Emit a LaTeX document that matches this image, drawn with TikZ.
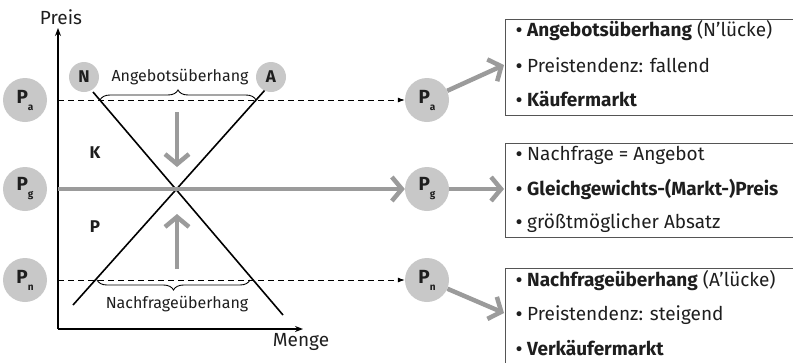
\documentclass[tikz,border=0pt]{standalone}
\usepackage{fontspec}
\setmainfont{Fira Sans}
\newfontfamily\dotfont{DejaVu Sans}
\usetikzlibrary{arrows.meta,decorations.pathreplacing}
\definecolor{disc}{HTML}{C8C8C8}
\definecolor{flow}{HTML}{9B9B9B}
\definecolor{frame}{HTML}{555555}
\definecolor{ink}{HTML}{1E1E1E}
\newcommand{\pricesym}[1]{P\raisebox{-7pt}{\fontsize{10}{10}\selectfont #1}}
\newcommand{\dotitem}{{\dotfont\fontsize{17}{17}\selectfont •}\hspace{3pt}}
\begin{document}
\begin{tikzpicture}[x=1pt,y=-1pt,
  price/.style={circle,fill=disc,minimum size=44pt,inner sep=0pt,text=ink,
    font=\bfseries\fontsize{19}{19}\selectfont},
  curvetag/.style={circle,fill=disc,minimum size=30pt,inner sep=0pt,text=ink,
    font=\bfseries\fontsize{17}{17}\selectfont},
  flowarrow/.style={draw=flow,line width=4.5pt,
    -{Straight Barb[length=10pt,width=24pt]}},
  guide/.style={dash pattern=on 6pt off 4pt,line width=0.8pt,
    -{Latex[length=7pt,width=5pt]}},
  axis/.style={line width=1.4pt,-{Stealth[length=8pt,width=6pt]}},
  curve/.style={line width=1.6pt},
  infobox/.style={draw=frame,line width=1pt,rectangle,inner sep=0pt,anchor=north west},
  item/.style={anchor=west,inner sep=0pt,font=\fontsize{19}{19}\selectfont,text=ink},
  label/.style={inner sep=0pt,font=\fontsize{16}{16}\selectfont,text=ink},
  axislabel/.style={inner sep=0pt,font=\fontsize{19}{19}\selectfont,text=ink},
  region/.style={inner sep=0pt,font=\bfseries\fontsize{17}{17}\selectfont,text=ink},
  gap/.style={decorate,decoration={brace,amplitude=10pt},line width=0.9pt}]
\clip (0,0) rectangle (793,362);

% axes
\coordinate (O) at (58,329);
\coordinate (ytop) at (58,28);
\coordinate (xend) at (303,329);
\draw[axis] (O) -- (ytop);
\draw[axis] (O) -- (xend);
\node[axislabel] (preis) at (61,17) {Preis};
\node[axislabel] (menge) at (301,342) {Menge};

% demand and supply lines
\coordinate (n1) at (93,92);
\coordinate (n2) at (283,315);
\coordinate (a1) at (265,90);
\coordinate (a2) at (73,305);
\draw[curve] (n1) -- (n2);
\draw[curve] (a1) -- (a2);
\node[curvetag] (N) at (84,77) {N};
\node[curvetag] (A) at (271,77) {A};
\node[region] (K) at (95,153) {K};
\node[region] (P) at (95,227) {P};

% price circles on the axis side
\node[price] (pal) at (25,100) {\pricesym{a}};
\node[price] (pgl) at (25,189) {\pricesym{g}};
\node[price] (pnl) at (25,280) {\pricesym{n}};

% price circles on the outcome side
\node[price] (par) at (427,100) {\pricesym{a}};
\node[price] (pgr) at (427,189) {\pricesym{g}};
\node[price] (pnr) at (427,280) {\pricesym{n}};

% price levels
\coordinate (ya) at (58,100);
\coordinate (yg) at (58,189);
\coordinate (yn) at (58,280);
\draw[guide] (ya) -- (par);
\draw[guide] (yn) -- (pnr);
\draw[flowarrow] (yg) -- (pgr);

% surplus braces
\coordinate (ba1) at (100,100);
\coordinate (ba2) at (256,100);
\coordinate (bn1) at (97,280);
\coordinate (bn2) at (250,280);
\draw[gap] (ba1) -- (ba2);
\draw[gap] (bn2) -- (bn1);
\node[label] (ueA) at (180,77) {Angebotsüberhang};
\node[label] (ueN) at (177,304) {Nachfrageüberhang};

% price adjustment
\coordinate (d1) at (177,112);
\coordinate (d2) at (177,167);
\coordinate (u1) at (177,269);
\coordinate (u2) at (177,214);
\draw[flowarrow] (d1) -- (d2);
\draw[flowarrow] (u1) -- (u2);

% outcome boxes
\node[infobox,minimum width=300pt,minimum height=96pt] (box1) at (505,19) {};
\node[infobox,minimum width=300pt,minimum height=94pt] (box2) at (505,143) {};
\node[infobox,minimum width=300pt,minimum height=110pt] (box3) at (505,268) {};

\node[item] (t11) at (514,31) {\dotitem\textbf{Angebotsüberhang} (N’lücke)};
\node[item] (t12) at (514,65) {\dotitem Preistendenz: fallend};
\node[item] (t13) at (514,99) {\dotitem\textbf{Käufermarkt}};
\node[item] (t21) at (514,155) {\dotitem Nachfrage = Angebot};
\node[item] (t22) at (514,189) {\dotitem\textbf{Gleichgewichts-(Markt-)Preis}};
\node[item] (t23) at (514,223) {\dotitem größtmöglicher Absatz};
\node[item] (t31) at (514,281) {\dotitem\textbf{Nachfrageüberhang} (A’lücke)};
\node[item] (t32) at (514,315) {\dotitem Preistendenz: steigend};
\node[item] (t33) at (514,348) {\dotitem\textbf{Verkäufermarkt}};

% links to the boxes
\coordinate (e1) at (504,65);
\coordinate (e2) at (504,189);
\coordinate (e3) at (504,313);
\draw[flowarrow] (par) -- (e1);
\draw[flowarrow] (pgr) -- (e2);
\draw[flowarrow] (pnr) -- (e3);
\end{tikzpicture}
\end{document}
